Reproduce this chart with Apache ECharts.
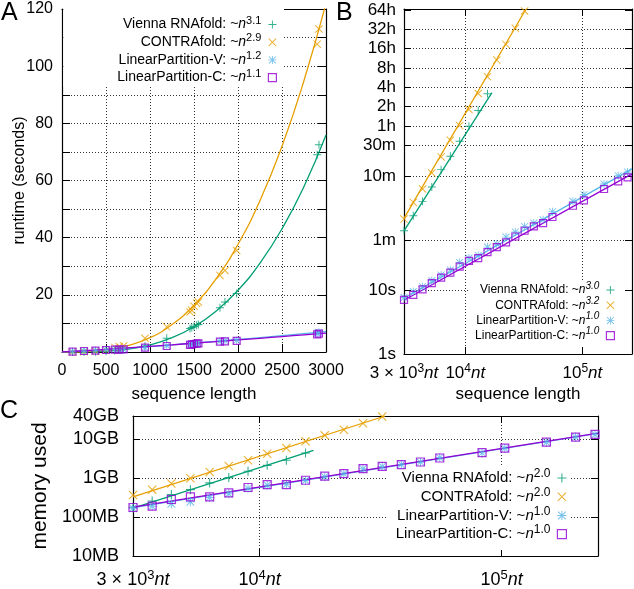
<!DOCTYPE html>
<html><head><meta charset="utf-8">
<script src="https://cdn.jsdelivr.net/npm/echarts@6/dist/echarts.min.js"></script>
<style>html,body{margin:0;padding:0;background:#fff}#c{width:634px;height:589px}</style>
</head><body><div id="c"></div>
<script>
// ---------- Panel A: runtime (seconds) vs sequence length (linear) ----------
const nA      = [120, 250, 380, 500, 600, 650, 700, 943, 1190, 1455, 1475, 1500, 1530, 1550, 1795, 1852, 1985, 2900, 2920];
const viennaA = [0.004, 0.03, 0.12, 0.29, 0.5, 0.7, 0.9, 2.1, 4.8, 8.2, 8.6, 8.9, 9.4, 9.6, 15.5, 17.5, 20.5, 69, 72.5];
const contraA = [0.01, 0.1, 0.3, 0.65, 1.6, 1.9, 2.2, 4.8, 8.8, 14, 14.6, 16, 17, 17.5, 26.8, 28.5, 35.5, 107.7, 113];
const lpvA    = [0.15, 0.35, 0.55, 0.75, 0.85, 0.9, 1.0, 1.6, 2.2, 2.6, 2.8, 2.9, 3.0, 3.1, 3.8, 3.9, 4.1, 6.6, 6.9];
const lpcA    = [0.15, 0.35, 0.5, 0.7, 0.8, 0.85, 0.9, 1.5, 2.1, 2.5, 2.7, 2.8, 2.9, 3.0, 3.6, 3.7, 3.9, 6.2, 6.4];
// fitted curves
const nFitA      = [0, 250, 500, 750, 1000, 1250, 1500, 1750, 2000, 2250, 2500, 2750, 3000];
const viennaFitA = [0, 0.03, 0.29, 1.03, 2.5, 5.0, 8.85, 14.3, 21.6, 31.1, 43.1, 57.9, 75.9];
const contraFitA = [0, 0.09, 0.66, 2.2, 5.0, 9.6, 16.4, 25.6, 37.7, 53, 72, 95, 122];
const lpvFitA    = [0, 0.36, 0.83, 1.35, 1.9, 2.49, 3.1, 3.73, 4.38, 5.05, 5.73, 6.42, 7.13];
const lpcFitA    = [0, 0.43, 0.92, 1.44, 1.97, 2.52, 3.08, 3.64, 4.22, 4.8, 5.4, 5.99, 6.6];
const expA = ['3.1', '2.9', '1.2', '1.1'];

// ---------- Panel B: runtime (seconds, log) vs sequence length (log) ----------
const nB      = [3000, 3600, 4320, 5180, 6220, 7460, 8960, 10750, 12900, 15480, 18580, 22290, 26750, 32100];
const viennaB = [83.5, 143, 240, 402, 750, 1210, 2075, 3560, 6270, 11420];
const contraB = [127, 231, 374, 666, 1184, 2150, 3650, 6490, 11550, 21060, 38300, 67300, 119700, 223000];
const nLP     = [3000, 3600, 4320, 5180, 6220, 7460, 8960, 10750, 12900, 15480, 18580, 22290, 26750, 32100, 38500, 46200, 55500, 83000, 103000, 153000, 202000, 243000];
const lpvB    = [7.6, 9.4, 11.2, 14.0, 17.1, 20.5, 26.7, 31.3, 34.4, 46.5, 52, 66.5, 80, 97.7, 110, 124, 166, 240, 305, 447, 603, 690];
const lpcB    = [7.0, 8.35, 10.2, 12.7, 15.5, 18.6, 23.1, 28.4, 31.3, 38.8, 46.5, 54.9, 68, 83.5, 97.7, 110, 137, 205, 248, 374, 492, 569];
const viennaFitB = [[3000, 83], [16900, 11900]];
const contraFitB = [[3000, 130], [33000, 240000]];
const lpvFitB    = [[3000, 7.4], [265000, 770]];
const lpcFitB    = [[3000, 6.9], [265000, 645]];
const expB = ['3.0', '3.2', '1.0', '1.0'];
const yTickValsB   = [1, 10, 60, 600, 1800, 3600, 7200, 14400, 28800, 57600, 115200, 230400];
const yTickLabelsB = ['1s', '10s', '1m', '10m', '30m', '1h', '2h', '4h', '8h', '16h', '32h', '64h'];

// ---------- Panel C: memory used (GB, log) vs sequence length (log) ----------
const viennaC = [0.18, 0.26, 0.38, 0.51, 0.76, 1.04, 1.51, 2.15, 2.9, 4.46];
const contraC = [0.37, 0.51, 0.73, 1.0, 1.45, 2.07, 2.89, 4.3, 6.0, 8.9, 12.7, 17.7, 26, 39];
const lpvC    = [0.17, 0.19, 0.22, 0.25, 0.32, 0.40, 0.55, 0.66, 0.70, 0.88, 1.1, 1.3, 1.75, 2.0, 2.25, 2.6, 3.4, 4.5, 5.9, 8.4, 11.5, 13.3];
const lpcC    = [0.177, 0.191, 0.284, 0.332, 0.332, 0.42, 0.578, 0.69, 0.69, 0.89, 1.13, 1.32, 1.77, 2.03, 2.25, 2.62, 3.32, 4.56, 5.98, 8.53, 11.5, 13.4];
const viennaFitC = [[3000, 0.17], [16700, 5.2]];
const contraFitC = [[3000, 0.33], [33000, 40]];
const lpvFitC    = [[3000, 0.175], [250000, 14.3]];
const lpcFitC    = [[3000, 0.18], [250000, 14.5]];
const expC = ['2.0', '2.0', '1.0', '1.0'];
const yTickValsC   = [0.01, 0.1, 1, 10, 40];
const yTickLabelsC = ['10MB', '100MB', '1GB', '10GB', '40GB'];

// shared
const toolNames = ['Vienna RNAfold', 'CONTRAfold', 'LinearPartition-V', 'LinearPartition-C'];
const xTickValsLog   = [3000, 10000, 100000];
const xTickLabelsLog = [['3 × 10', '3'], ['10', '4'], ['10', '5']];

const FONT = '"Liberation Sans", Arial, Helvetica, sans-serif';
const GREEN = '#009e73', ORANGE = '#e69f00', BLUE = '#56b4e9', PURPLE = '#9400d3';
const COLORS = [GREEN, ORANGE, BLUE, PURPLE];
const SYM_PLUS  = 'path://M4.4,0H5.6V10H4.4ZM0,4.4H10V5.6H0Z';
const SYM_CROSS = 'path://M0,0.85L0.85,0L10,9.15L9.15,10ZM9.15,0L10,0.85L0.85,10L0,9.15Z';
const SYM_STAR  = 'path://M4.45,0H5.55V10H4.45ZM0,4.45H10V5.55H0ZM0.3,1.1L1.1,0.3L9.7,8.9L8.9,9.7ZM8.9,0.3L9.7,1.1L1.1,9.7L0.3,8.9Z';
const SYMS = [SYM_PLUS, SYM_CROSS, SYM_STAR, 'rect'];

const zip = (xs, ys) => ys.map((y, i) => [xs[i], y]);
const DOT = {type: [1, 2], color: '#333', width: 1};
const AXL = {show: true, onZero: false, lineStyle: {color: '#000', width: 1.2}};

function lookup(vals, labels, v) {
  for (let i = 0; i < vals.length; i++) if (Math.abs(vals[i] - v) <= vals[i] * 1e-6) return labels[i];
  return '';
}
function fmtLogX(v) {
  for (let i = 0; i < xTickValsLog.length; i++)
    if (Math.abs(xTickValsLog[i] - v) <= xTickValsLog[i] * 1e-6)
      return '{b|' + xTickLabelsLog[i][0] + '}{sup|' + xTickLabelsLog[i][1] + '}{it|nt}';
  return '';
}
function scat(panel, k, xs, ys, xi, size) {
  const isSq = SYMS[k] === 'rect';
  return {
    type: 'scatter', name: panel + k, xAxisIndex: xi, yAxisIndex: xi,
    data: zip(xs, ys), symbol: SYMS[k], symbolSize: isSq ? size - 1 : size,
    itemStyle: isSq ? {color: 'transparent', borderColor: COLORS[k], borderWidth: 1.2} : {color: COLORS[k]},
    silent: true, z: 3 + k
  };
}
function fit(k, data, xi, smooth) {
  return {
    type: 'line', name: 'fit' + xi + k, xAxisIndex: xi, yAxisIndex: xi, data: data,
    showSymbol: false, symbol: 'none', smooth: smooth, silent: true, z: 2 + k,
    lineStyle: {color: COLORS[k], width: 1.3}
  };
}
function legend(panel, exps, italicExp, fs, supFs, lh, gap, right, top, padding, iw) {
  const names = [0, 1, 2, 3].map(k => panel + k);
  return {
    data: names, orient: 'vertical', align: 'right', right: right, top: top,
    itemWidth: iw, itemHeight: iw, itemGap: gap, padding: padding,
    backgroundColor: '#fff', selectedMode: false,
    itemStyle: {borderWidth: 1.2},
    textStyle: {
      fontSize: fs, color: '#000', fontFamily: FONT, lineHeight: lh, padding: [0, 2, 0, 0],
      rich: {
        it: {fontStyle: 'italic', fontSize: fs, fontFamily: FONT, lineHeight: lh},
        sup: {fontSize: supFs, fontFamily: FONT, fontStyle: italicExp ? 'italic' : 'normal', lineHeight: lh, padding: [0, 0, 8, 0]}
      }
    },
    formatter: name => {
      const k = +name.slice(1);
      return toolNames[k] + ': ~{it|n}{sup|' + exps[k] + '}';
    }
  };
}
function logXRich(fs) {
  return {
    b: {fontSize: fs, fontFamily: FONT, color: '#000'},
    sup: {fontSize: Math.round(fs * 0.72), fontFamily: FONT, color: '#000', padding: [0, 0, 9, 0]},
    it: {fontSize: fs, fontFamily: FONT, fontStyle: 'italic', color: '#000'}
  };
}

const series = [];
// Panel A (axis index 0)
[viennaA, contraA, lpvA, lpcA].forEach((ys, k) => series.push(scat('A', k, nA, ys, 0, 8)));
[viennaFitA, contraFitA, lpvFitA, lpcFitA].forEach((ys, k) => series.push(fit(k, zip(nFitA, ys), 0, true)));
// Panel B (axis index 2)
series.push(scat('B', 0, nB, viennaB, 2, 8));
series.push(scat('B', 1, nB, contraB, 2, 8));
series.push(scat('B', 2, nLP, lpvB, 2, 8));
series.push(scat('B', 3, nLP, lpcB, 2, 8));
[viennaFitB, contraFitB, lpvFitB, lpcFitB].forEach((d, k) => series.push(fit(k, d, 2, false)));
// Panel C (axis index 4)
series.push(scat('C', 0, nB, viennaC, 4, 9));
series.push(scat('C', 1, nB, contraC, 4, 9));
series.push(scat('C', 2, nLP, lpvC, 4, 9));
series.push(scat('C', 3, nLP, lpcC, 4, 9));
[viennaFitC, contraFitC, lpvFitC, lpcFitC].forEach((d, k) => series.push(fit(k, d, 4, false)));

const noLab = {show: false};
const option = {
  animation: false,
  backgroundColor: '#fff',
  textStyle: {fontFamily: FONT, color: '#000'},
  grid: [
    {left: 62, top: 9, width: 264, height: 343, outerBoundsMode: 'none', containLabel: false},
    {left: 404, top: 9, width: 228, height: 345, outerBoundsMode: 'none', containLabel: false},
    {left: 133, top: 416, width: 465, height: 140, outerBoundsMode: 'none', containLabel: false}
  ],
  xAxis: [
    {type: 'value', gridIndex: 0, min: 0, max: 3000, interval: 500, axisLine: AXL,
     axisTick: {inside: true, length: 8, lineStyle: {color: '#000'}},
     axisLabel: {fontSize: 16, color: '#000', margin: 11, hideOverlap: false, formatter: v => String(v)},
     splitLine: {show: true, showMinLine: false, showMaxLine: false, lineStyle: DOT},
     name: 'sequence length', nameLocation: 'middle', nameGap: 34, nameMoveOverlap: false,
     nameTextStyle: {fontSize: 17, color: '#000'}},
    {type: 'value', gridIndex: 0, position: 'top', min: 0, max: 3000, interval: 500, axisLine: AXL,
     axisTick: {inside: true, length: 8, lineStyle: {color: '#000'}}, axisLabel: noLab, splitLine: {show: false}},
    {type: 'log', logBase: 10, gridIndex: 1, min: 3000, max: 265000, axisLine: AXL,
     axisTick: {inside: true, length: 7, lineStyle: {color: '#000'}},
     axisLabel: {formatter: fmtLogX, rich: logXRich(17), margin: 9, hideOverlap: false},
     splitLine: {show: true, showMinLine: false, showMaxLine: false, lineStyle: DOT},
     name: 'sequence length', nameLocation: 'middle', nameGap: 32, nameMoveOverlap: false,
     nameTextStyle: {fontSize: 17, color: '#000'}},
    {type: 'log', logBase: 10, gridIndex: 1, position: 'top', min: 3000, max: 265000, axisLine: AXL,
     axisTick: {inside: true, length: 7, lineStyle: {color: '#000'}}, axisLabel: noLab, splitLine: {show: false}},
    {type: 'log', logBase: 10, gridIndex: 2, min: 3000, max: 250000, axisLine: AXL,
     axisTick: {inside: true, length: 7, lineStyle: {color: '#000'}},
     axisLabel: {formatter: fmtLogX, rich: logXRich(18), margin: 13, hideOverlap: false},
     splitLine: {show: true, showMinLine: false, showMaxLine: false, lineStyle: DOT}},
    {type: 'log', logBase: 10, gridIndex: 2, position: 'top', min: 3000, max: 250000, axisLine: AXL,
     axisTick: {inside: true, length: 7, lineStyle: {color: '#000'}}, axisLabel: noLab, splitLine: {show: false}}
  ],
  yAxis: [
    {type: 'value', gridIndex: 0, min: 0, max: 120, interval: 10, axisLine: AXL,
     axisTick: {inside: true, length: 8, lineStyle: {color: '#000'}},
     axisLabel: {fontSize: 16, color: '#000', margin: 9, hideOverlap: false,
                 formatter: v => (v > 0 && v % 20 === 0) ? String(v) : ''},
     splitLine: {show: true, showMinLine: false, showMaxLine: false, lineStyle: DOT},
     name: 'runtime (seconds)', nameLocation: 'middle', nameGap: 34, nameMoveOverlap: false,
     nameTextStyle: {fontSize: 16, color: '#000'}},
    {type: 'value', gridIndex: 0, position: 'right', min: 0, max: 120, interval: 10, axisLine: AXL,
     axisTick: {inside: true, length: 8, lineStyle: {color: '#000'}}, axisLabel: noLab, splitLine: {show: false}},
    {type: 'log', logBase: 10, gridIndex: 1, min: 1, max: 240000, axisLine: AXL,
     axisTick: {inside: true, length: 7, customValues: yTickValsB, lineStyle: {color: '#000'}},
     axisLabel: {fontSize: 17, color: '#000', margin: 8, hideOverlap: false, customValues: yTickValsB,
                 formatter: v => lookup(yTickValsB, yTickLabelsB, v)},
     splitLine: {show: true, showMinLine: false, showMaxLine: false, lineStyle: DOT}},
    {type: 'log', logBase: 10, gridIndex: 1, position: 'right', min: 1, max: 240000, axisLine: AXL,
     axisTick: {inside: true, length: 7, customValues: yTickValsB, lineStyle: {color: '#000'}},
     axisLabel: noLab, splitLine: {show: false}},
    {type: 'log', logBase: 10, gridIndex: 2, min: 0.01, max: 40, axisLine: AXL,
     axisTick: {inside: true, length: 7, lineStyle: {color: '#000'}},
     axisLabel: {fontSize: 18, color: '#000', margin: 14, hideOverlap: false,
                 formatter: v => lookup(yTickValsC, yTickLabelsC, v)},
     splitLine: {show: true, showMinLine: false, showMaxLine: false, lineStyle: DOT},
     name: 'memory used', nameLocation: 'middle', nameGap: 82, nameMoveOverlap: false,
     nameTextStyle: {fontSize: 21, color: '#000'}},
    {type: 'log', logBase: 10, gridIndex: 2, position: 'right', min: 0.01, max: 40, axisLine: AXL,
     axisTick: {inside: true, length: 7, lineStyle: {color: '#000'}}, axisLabel: noLab, splitLine: {show: false}}
  ],
  legend: [
    legend('A', expA, false, 14, 11, 16, -1.3, 350, 9, [6, 7, 0, 54], 8),
    legend('B', expB, true, 12, 10, 14, -2.8, 9, 280, [1, 10, 2, 6], 8),
    legend('C', expC, false, 15, 12, 17, -1.3, 64, 466, [2, 3, 6, 8], 9)
  ],
  graphic: [
    {type: 'text', left: 1, top: 1, style: {text: 'A', font: '25px ' + FONT, fill: '#000'}},
    {type: 'text', left: 336, top: 1, style: {text: 'B', font: '25px ' + FONT, fill: '#000'}},
    {type: 'text', left: 0, top: 399, style: {text: 'C', font: '25px ' + FONT, fill: '#000'}}
  ],
  series: series
};
const chart = echarts.init(document.getElementById('c'), null, {renderer: 'canvas'});
chart.setOption(option);
</script>
</body></html>
